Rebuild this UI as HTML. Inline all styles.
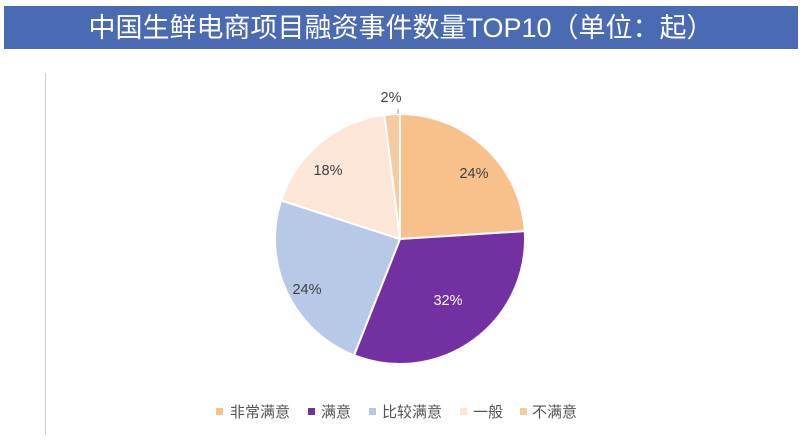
<!DOCTYPE html>
<html><head><meta charset="utf-8"><style>
body{margin:0;width:807px;height:447px;background:#fff;overflow:hidden;font-family:"Liberation Sans","Noto Sans CJK SC",sans-serif;}
</style></head><body>
<svg width="807" height="447" xmlns="http://www.w3.org/2000/svg" style="position:absolute;left:0;top:0">
<rect x="4" y="6" width="794" height="43" fill="#4a6bb4"/>
<text x="401" y="37" text-anchor="middle" font-size="27" fill="#fff" font-family="Liberation Sans,Noto Sans CJK SC,sans-serif">中国生鲜电商项目融资事件数量TOP10（单位：起）</text>
<line x1="45.5" y1="73" x2="45.5" y2="435" stroke="#d0d0d0" stroke-width="1"/>
<g stroke="#fff" stroke-width="2" stroke-linejoin="round">
<path d="M400,239 L400,114 A125,125 0 0 1 524.76,231.15 Z" fill="#f8c18c"/>
<path d="M400,239 L524.76,231.15 A125,125 0 0 1 354.02,355.22 Z" fill="#7330a2"/>
<path d="M400,239 L354.02,355.22 A125,125 0 0 1 281.12,200.37 Z" fill="#b7c9e6"/>
<path d="M400,239 L281.12,200.37 A125,125 0 0 1 384.34,114.98 Z" fill="#fbe6d8"/>
<path d="M400,239 L384.34,114.98 A125,125 0 0 1 400,114 Z" fill="#f6cba2"/>
</g>
<line x1="398" y1="109" x2="398" y2="114" stroke="#999" stroke-width="1"/>
<g font-size="14.5" fill="#404040" text-anchor="middle">
<text x="474" y="178">24%</text>
<text x="448" y="305" fill="#fff">32%</text>
<text x="307" y="294">24%</text>
<text x="328" y="175">18%</text>
<text x="391" y="102">2%</text>
</g>
<g font-size="15" fill="#555">
<rect x="216" y="408" width="7" height="7" fill="#f8c18c"/><text x="230" y="417">非常满意</text>
<rect x="308" y="408" width="7" height="7" fill="#7330a2"/><text x="321" y="417">满意</text>
<rect x="369" y="408" width="7" height="7" fill="#b7c9e6"/><text x="382" y="417">比较满意</text>
<rect x="460" y="408" width="7" height="7" fill="#fbe6d8"/><text x="473" y="417">一般</text>
<rect x="520" y="408" width="7" height="7" fill="#f6cba2"/><text x="532" y="417">不满意</text>
</g>
</svg>
</body></html>
